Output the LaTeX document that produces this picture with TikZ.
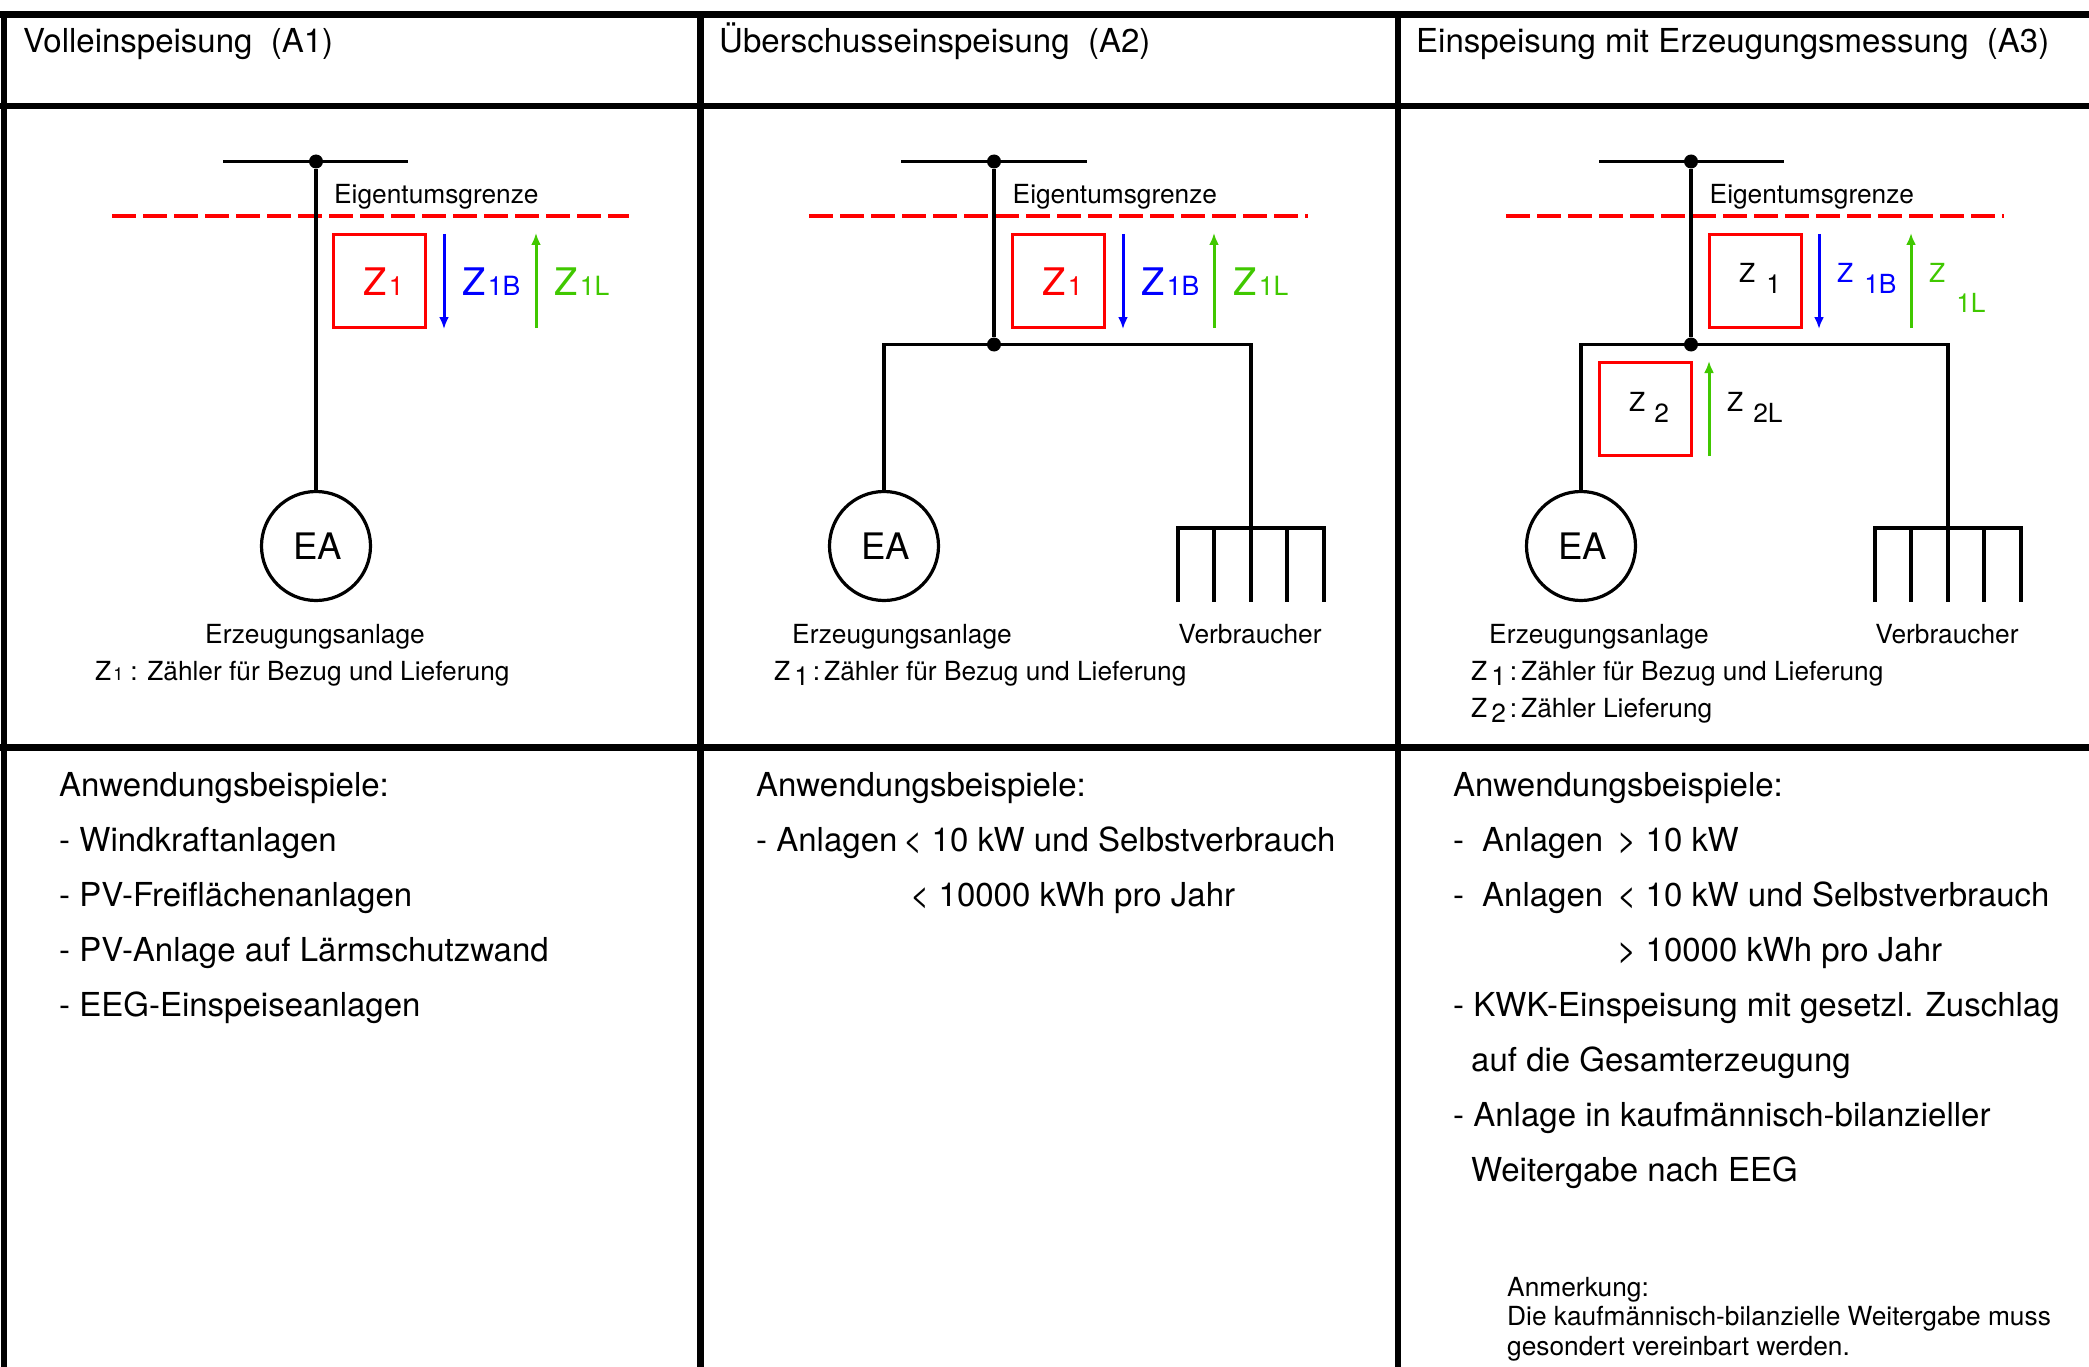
\documentclass[tikz,border=0pt]{standalone}
\usepackage{fontspec}
\setmainfont{TeX Gyre Heros}
\usetikzlibrary{arrows.meta}
\definecolor{liefergruen}{RGB}{64,200,0}
\newcommand{\headfont}{\fontsize{33}{38}\selectfont}
\newcommand{\bodyfont}{\fontsize{33}{40}\selectfont}
\newcommand{\smallfont}{\fontsize{26.3}{30}\selectfont}
\newcommand{\zbig}[1]{{\fontsize{38}{40}\selectfont Z}\kern2.5pt{\fontsize{26.5}{30}\selectfont #1}}
\newcommand{\zlow}[2]{\smallfont Z\kern#1\raisebox{-11pt}{#2}}
\tikzset{
    grid/.style={line width=6.5pt},
    wire/.style={line width=3.2pt},
    grenze/.style={red,line width=4pt,dash pattern=on 24pt off 7pt},
    dot/.style={circle,fill=black,inner sep=0pt,minimum size=14pt},
    zaehler/.style={rectangle,draw=red,line width=3pt,inner sep=0pt,minimum width=92pt,minimum height=93pt},
    ea/.style={circle,draw,line width=3.2pt,inner sep=0pt,minimum size=109pt,font=\fontsize{36.5}{42}\selectfont},
    pfeilblau/.style={-{Latex[length=12pt,width=10pt]},blue,line width=3pt},
    pfeilgruen/.style={-{Latex[length=12pt,width=10pt]},liefergruen,line width=3pt},
    head/.style={anchor=base west,inner sep=0pt,font=\headfont},
    body/.style={anchor=base west,inner sep=0pt,font=\bodyfont},
    klein/.style={anchor=base west,inner sep=0pt,font=\smallfont},
    mitte/.style={anchor=base,inner sep=0pt,font=\smallfont},
}
\begin{document}
\begin{tikzpicture}[x=1pt,y=-1pt]
    \useasboundingbox (0,0) rectangle (2089,1367);

    % table
    \draw[grid] (0,14.5) -- (2089,14.5);
    \draw[grid] (0,106) -- (2089,106);
    \draw[grid] (0,747.5) -- (2089,747.5);
    \draw[grid] (4,12) -- (4,1367);
    \draw[grid] (700.5,12) -- (700.5,1367);
    \draw[grid] (1398,12) -- (1398,1367);

    \node[head] (a1head) at (23,53) {Volleinspeisung\ \ (A1)};
    \node[head] (a2head) at (719,53) {Überschusseinspeisung\ \ (A2)};
    \node[head] (a3head) at (1416,53) {Einspeisung mit Erzeugungsmessung\ \ (A3)};

    % A1
    \coordinate (a1busl) at (223,161.5);
    \coordinate (a1busr) at (408,161.5);
    \coordinate (a1grl) at (112,216);
    \coordinate (a1grr) at (629,216);
    \node[dot] (a1top) at (316,161.5) {};
    \node[ea] (a1ea) at (316,546) {\kern3pt\raisebox{-3.5pt}{EA}};
    \node[zaehler] (a1z) at (379.5,281) {};
    \coordinate (a1bo) at (444,234);
    \coordinate (a1bu) at (444,329);
    \coordinate (a1go) at (536,233);
    \coordinate (a1gu) at (536,328);

    \draw[grenze] (a1grl) -- (a1grr);
    \draw[wire] (a1busl) -- (a1busr);
    \draw[wire] (a1top) -- (a1ea);
    \draw[pfeilblau] (a1bo) -- (a1bu);
    \draw[pfeilgruen] (a1gu) -- (a1go);

    \node[klein] (a1eig) at (334,204) {Eigentumsgrenze};
    \node[anchor=base west,inner sep=0pt,red] (a1zl) at (363,295) {\zbig{1}};
    \node[anchor=base west,inner sep=0pt,blue] (a1zb) at (462,295) {\zbig{1B}};
    \node[anchor=base west,inner sep=0pt,liefergruen] (a1zg) at (554,295) {\zbig{1L}};
    \node[mitte] (a1erz) at (315,643) {Erzeugungsanlage};
    \node[klein] (a1leg) at (95,680) {Z\kern2pt{\fontsize{18}{20}\selectfont 1}\kern7pt: Zähler für Bezug und Lieferung};

    \node[body] (a1t0) at (59,796) {Anwendungsbeispiele:};
    \node[body] (a1t1) at (59,851) {- Windkraftanlagen};
    \node[body] (a1t2) at (59,906) {- PV-Freiflächenanlagen};
    \node[body] (a1t3) at (59,961) {- PV-Anlage auf Lärmschutzwand};
    \node[body] (a1t4) at (59,1016) {- EEG-Einspeiseanlagen};

    % A2
    \coordinate (a2busl) at (901,161.5);
    \coordinate (a2busr) at (1087,161.5);
    \coordinate (a2grl) at (809,216);
    \coordinate (a2grr) at (1308,216);
    \node[dot] (a2top) at (994,161.5) {};
    \node[dot] (a2mid) at (994,344.5) {};
    \coordinate (a2li) at (884,344.5);
    \coordinate (a2re) at (1251,344.5);
    \node[ea] (a2ea) at (884,546) {\kern3pt\raisebox{-3.5pt}{EA}};
    \node[zaehler] (a2z) at (1058.5,281) {};
    \coordinate (a2bo) at (1123,234);
    \coordinate (a2bu) at (1123,329);
    \coordinate (a2go) at (1214,233);
    \coordinate (a2gu) at (1214,328);
    \coordinate (a2last) at (1251,528);

    \draw[grenze] (a2grl) -- (a2grr);
    \draw[wire] (a2busl) -- (a2busr);
    \draw[wire] (a2top) -- (a2mid);
    \draw[wire] (a2ea) -- (a2li) -- (a2re) -- (a2last);
    \draw[pfeilblau] (a2bo) -- (a2bu);
    \draw[pfeilgruen] (a2gu) -- (a2go);
    \draw[wire] (1178,602) -- (1178,528) -- (1324,528) -- (1324,602);
    \foreach \x in {1214,1251,1287}
        \draw[wire] (\x,528) -- (\x,602);

    \node[klein] (a2eig) at (1012.5,204) {Eigentumsgrenze};
    \node[anchor=base west,inner sep=0pt,red] (a2zl) at (1042,295) {\zbig{1}};
    \node[anchor=base west,inner sep=0pt,blue] (a2zb) at (1141,295) {\zbig{1B}};
    \node[anchor=base west,inner sep=0pt,liefergruen] (a2zg) at (1233,295) {\zbig{1L}};
    \node[mitte] (a2erz) at (902,643) {Erzeugungsanlage};
    \node[mitte] (a2ver) at (1250,643) {Verbraucher};
    \node[klein] (a2leg) at (774,680) {Z\kern4pt\raisebox{-5pt}{1}\kern4pt:\kern4pt Zähler für Bezug und Lieferung};

    \node[body] (a2t0) at (756,796) {Anwendungsbeispiele:};
    \node[body] (a2t1) at (756,851) {- Anlagen};
    \node[body] (a2t1b) at (903,851) {< 10 kW und Selbstverbrauch};
    \node[body] (a2t2) at (910,906) {< 10000 kWh pro Jahr};

    % A3
    \coordinate (a3busl) at (1599,161.5);
    \coordinate (a3busr) at (1784,161.5);
    \coordinate (a3grl) at (1506,216);
    \coordinate (a3grr) at (2004,216);
    \node[dot] (a3top) at (1691,161.5) {};
    \node[dot] (a3mid) at (1691,344.5) {};
    \coordinate (a3li) at (1581,344.5);
    \coordinate (a3re) at (1948,344.5);
    \node[ea] (a3ea) at (1581,546) {\kern3pt\raisebox{-3.5pt}{EA}};
    \node[zaehler] (a3z1) at (1755,281) {};
    \node[zaehler] (a3z2) at (1645,409) {};
    \coordinate (a3bo) at (1819,234);
    \coordinate (a3bu) at (1819,329);
    \coordinate (a3go) at (1911,233);
    \coordinate (a3gu) at (1911,328);
    \coordinate (a3g2o) at (1709,361);
    \coordinate (a3g2u) at (1709,456);
    \coordinate (a3last) at (1948,528);

    \draw[grenze] (a3grl) -- (a3grr);
    \draw[wire] (a3busl) -- (a3busr);
    \draw[wire] (a3top) -- (a3mid);
    \draw[wire] (a3ea) -- (a3li) -- (a3re) -- (a3last);
    \draw[pfeilblau] (a3bo) -- (a3bu);
    \draw[pfeilgruen] (a3gu) -- (a3go);
    \draw[pfeilgruen] (a3g2u) -- (a3g2o);
    \draw[wire] (1875,602) -- (1875,528) -- (2021,528) -- (2021,602);
    \foreach \x in {1911,1948,1984}
        \draw[wire] (\x,528) -- (\x,602);

    \node[klein] (a3eig) at (1709.5,204) {Eigentumsgrenze};
    \node[anchor=base west,inner sep=0pt] (a3zl) at (1739,283) {\zlow{11pt}{1}};
    \node[anchor=base west,inner sep=0pt,blue] (a3zb) at (1837,283) {\zlow{11pt}{1B}};
    \node[anchor=base west,inner sep=0pt,liefergruen] (a3zg) at (1929,283) {\smallfont Z\kern11pt\raisebox{-30pt}{1L}};
    \node[anchor=base west,inner sep=0pt] (a3z2l) at (1629,411) {\zlow{9pt}{2}};
    \node[anchor=base west,inner sep=0pt] (a3z2g) at (1727,411) {\zlow{10pt}{2L}};
    \node[mitte] (a3erz) at (1599,643) {Erzeugungsanlage};
    \node[mitte] (a3ver) at (1947,643) {Verbraucher};
    \node[klein] (a3leg) at (1471,680) {Z\kern4pt\raisebox{-5pt}{1}\kern4pt:\kern4pt Zähler für Bezug und Lieferung};
    \node[klein] (a3leh) at (1471,717) {Z\kern4pt\raisebox{-5pt}{2}\kern4pt:\kern4pt Zähler Lieferung};

    \node[body] (a3t0) at (1453,796) {Anwendungsbeispiele:};
    \node[body] (a3t1) at (1453,851) {-};
    \node[body] (a3t1a) at (1482,851) {Anlagen};
    \node[body] (a3t1b) at (1617,851) {> 10 kW};
    \node[body] (a3t2) at (1453,906) {-};
    \node[body] (a3t2a) at (1482,906) {Anlagen};
    \node[body] (a3t2b) at (1617,906) {< 10 kW und Selbstverbrauch};
    \node[body] (a3t3) at (1617,961) {> 10000 kWh pro Jahr};
    \node[body] (a3t4) at (1453,1016) {- KWK-Einspeisung mit gesetzl. Zuschlag};
    \node[body] (a3t5) at (1471,1071) {auf die Gesamterzeugung};
    \node[body] (a3t6) at (1453,1126) {- Anlage in kaufmännisch-bilanzieller};
    \node[body] (a3t7) at (1471,1181) {Weitergabe nach EEG};

    \node[klein] (a3n0) at (1507,1296) {Anmerkung:};
    \node[klein] (a3n1) at (1507,1325) {Die kaufmännisch-bilanzielle Weitergabe muss};
    \node[klein] (a3n2) at (1507,1355) {gesondert vereinbart werden.};
\end{tikzpicture}
\end{document}
